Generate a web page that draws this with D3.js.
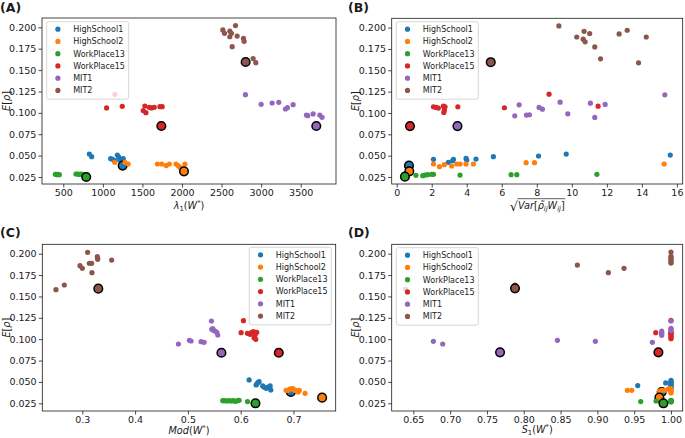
<!DOCTYPE html>
<html><head><meta charset="utf-8">
<script src="https://cdn.jsdelivr.net/npm/d3@7/dist/d3.min.js"></script>
<style>
body{margin:0;background:#fff;}
svg text{font-family:"DejaVu Sans",sans-serif;fill:#1a1a1a;}
</style></head><body>
<svg id="chart" width="685" height="438"></svg>
<script>
// ---------- data ----------
const seriesNames = ["HighSchool1","HighSchool2","WorkPlace13","WorkPlace15","MIT1","MIT2"];
const seriesColors = ["#1f77b4","#ff7f0e","#2ca02c","#d62728","#9467bd","#8c564b"];
const yTickValues = [0.025,0.05,0.075,0.1,0.125,0.15,0.175,0.2];
const xTicksA = [500,1000,1500,2000,2500,3000,3500];
const xTicksB = [0,2,4,6,8,10,12,14,16];
const xTicksC = [0.3,0.4,0.5,0.6,0.7];
const xTicksD = [0.65,0.70,0.75,0.80,0.85,0.90,0.95,1.00];

// Panel A: lambda_1(W*)
const A_HighSchool1 = [[829,0.0519],[858,0.0488],[1099,0.0464],[1124,0.0457],[1153,0.0441],[1183,0.0507],[1200,0.0484],[1215,0.0449],[1237,0.0457],[1250,0.0425],[1258,0.0464]];
const A_HighSchool2 = [[1150,0.0421],[1280,0.0421],[1320,0.0402],[1690,0.0402],[1745,0.0402],[1800,0.0383],[1840,0.0402],[1925,0.0402],[1950,0.0383],[1975,0.0363],[2037,0.0402]];
const A_WorkPlace13 = [[400,0.0281],[412,0.0281],[425,0.0277],[437,0.0281],[450,0.0277],[660,0.0285],[680,0.0285],[700,0.0281],[720,0.0285],[745,0.0281]];
const A_WorkPlace15 = [[1047,0.1057],[1245,0.1076],[1152,0.1217],[1531,0.1080],[1510,0.1026],[1544,0.1002],[1586,0.1065],[1615,0.1057],[1649,0.1065],[1721,0.1072],[1750,0.1072]];
const A_MIT1 = [[2802,0.1213],[3000,0.1100],[3139,0.1115],[3223,0.1123],[3307,0.1045],[3332,0.1061],[3404,0.1096],[3572,0.0975],[3589,0.0967],[3657,0.0987],[3741,0.0975],[3770,0.0948]];
const A_MIT2 = [[2516,0.1969],[2537,0.1930],[2604,0.1957],[2625,0.1930],[2604,0.1890],[2676,0.2020],[2697,0.1898],[2777,0.1870],[2785,0.1836],[2634,0.1774],[2899,0.1634],[2933,0.1587]];
const A_original = [[1250,0.0383],[2025,0.0316],[790,0.0250],[1739,0.0846],[3697,0.0846],[2804,0.1595]];

// Panel B: sqrt(Var[rho W])
const B_HighSchool1 = [[2.10,0.0457],[2.95,0.0422],[3.20,0.0441],[3.24,0.0457],[3.96,0.0468],[4.00,0.0449],[4.53,0.0460],[5.52,0.0488],[8.10,0.0496],[9.68,0.0519],[15.62,0.0507]];
const B_HighSchool2 = [[2.10,0.0402],[2.44,0.0371],[2.72,0.0394],[3.14,0.0379],[3.43,0.0402],[3.62,0.0402],[3.96,0.0402],[4.38,0.0402],[7.39,0.0418],[7.87,0.0418],[15.27,0.0402]];
const B_WorkPlace13 = [[1.10,0.0270],[1.49,0.0266],[1.62,0.0273],[1.77,0.0277],[2.00,0.0281],[2.10,0.0281],[3.62,0.0273],[6.53,0.0277],[6.86,0.0277],[11.43,0.0281]];
const B_WorkPlace15 = [[2.10,0.1072],[2.25,0.1065],[2.38,0.1057],[2.67,0.1080],[2.72,0.1033],[2.69,0.1006],[2.76,0.1072],[3.49,0.1072],[6.15,0.1061],[8.70,0.1220],[11.50,0.1080]];
const B_MIT1 = [[6.99,0.1096],[6.74,0.0967],[7.41,0.0975],[7.58,0.0979],[8.13,0.1065],[8.32,0.1045],[9.33,0.1127],[9.77,0.0990],[11.06,0.1115],[11.31,0.0948],[11.90,0.1100],[15.31,0.1213]];
const B_MIT2 = [[9.26,0.2020],[10.28,0.1890],[10.70,0.1957],[11.02,0.1930],[10.65,0.1864],[10.76,0.1833],[11.31,0.1774],[11.64,0.1634],[12.70,0.1926],[13.16,0.1969],[14.25,0.1890],[13.81,0.1587]];
const B_original = [[0.70,0.0383],[0.72,0.0316],[0.47,0.0254],[0.76,0.0846],[3.47,0.0846],[5.37,0.1595]];

// Panel C: Mod(W*)
const C_HighSchool1 = [[0.616,0.0523],[0.6292,0.0464],[0.6324,0.0492],[0.6349,0.0503],[0.6418,0.0453],[0.645,0.0437],[0.6482,0.0425],[0.6558,0.0453],[0.657,0.0406],[0.6507,0.0437],[0.6305,0.0476]];
const C_HighSchool2 = [[0.686,0.0402],[0.690,0.0402],[0.694,0.0418],[0.697,0.0418],[0.699,0.0421],[0.702,0.0402],[0.704,0.0402],[0.706,0.0394],[0.709,0.0383],[0.711,0.0402],[0.722,0.0367]];
const C_WorkPlace13 = [[0.566,0.0281],[0.570,0.0281],[0.574,0.0277],[0.578,0.0281],[0.582,0.0277],[0.586,0.0281],[0.590,0.0273],[0.594,0.0281],[0.597,0.0285],[0.613,0.0270]];
const C_WorkPlace15 = [[0.6052,0.1217],[0.6008,0.1076],[0.6128,0.1069],[0.6178,0.1057],[0.621,0.1080],[0.6242,0.1088],[0.6273,0.1049],[0.6254,0.1018],[0.6286,0.0998],[0.6305,0.1080],[0.6197,0.1069]];
const C_MIT1 = [[0.482,0.0944],[0.5028,0.0987],[0.506,0.0979],[0.525,0.0971],[0.5307,0.0963],[0.5446,0.1213],[0.5452,0.1115],[0.5471,0.1123],[0.5483,0.1104],[0.5515,0.1096],[0.5547,0.1080],[0.5566,0.1049]];
const C_MIT2 = [[0.2501,0.1579],[0.2659,0.1634],[0.2956,0.1860],[0.300,0.1829],[0.3101,0.2016],[0.3133,0.1887],[0.3177,0.1887],[0.3183,0.1778],[0.3284,0.1965],[0.3291,0.1934],[0.3556,0.1926],[0.3290,0.1950]];
const C_original = [[0.695,0.0383],[0.7543,0.0316],[0.628,0.0250],[0.6722,0.0842],[0.5635,0.0842],[0.3303,0.1591]];

// Panel D: S_1(W*)
const D_HighSchool1 = [[0.9548,0.0457],[0.9928,0.0488],[1,0.0519],[1,0.0507],[1,0.0496],[1,0.0484],[1,0.0464],[1,0.0457],[1,0.0449],[1,0.0441],[1,0.0425]];
const D_HighSchool2 = [[0.9408,0.0402],[0.9467,0.0402],[0.9842,0.0394],[0.9874,0.0402],[0.9919,0.0402],[0.9965,0.0418],[1,0.0421],[1,0.0402],[1,0.0383],[1,0.0371],[1,0.0394]];
const D_WorkPlace13 = [[0.9589,0.0270],[0.9797,0.0277],[1,0.0285],[1,0.0281],[1,0.0277],[1,0.0273],[1,0.0270],[1,0.0266],[1,0.0281],[1,0.0277]];
const D_WorkPlace15 = [[0.9793,0.1076],[0.9874,0.1072],[1,0.1220],[1,0.1080],[1,0.1065],[1,0.1057],[1,0.1033],[1,0.1018],[1,0.1006],[1,0.1072],[1,0.1080]];
const D_MIT1 = [[0.6772,0.0975],[0.6899,0.0944],[0.8457,0.0987],[0.8973,0.0975],[0.9747,0.0963],[0.9874,0.1096],[0.9874,0.1065],[0.9874,0.1045],[1,0.1213],[1,0.1127],[1,0.1115],[1,0.1100]];
const D_MIT2 = [[0.6396,0.1587],[0.8728,0.1867],[0.9149,0.1778],[0.9362,0.1829],[1,0.2020],[1,0.1969],[1,0.1957],[1,0.1930],[1,0.1926],[1,0.1898],[1,0.1890],[0.7881,0.1634]];
const D_original = [[0.9874,0.0383],[0.9842,0.0316],[0.9897,0.0250],[0.9829,0.0846],[0.7678,0.0846],[0.7881,0.1595]];

// ---------- layout ----------
const svg = d3.select("#chart");
const panels = [
  {tag:"(A)", tagX:0, tagY:11.5, box:[42,18,336,184], xDom:[231,3946], yDom:[0.0168,0.2109],
   series:[A_HighSchool1,A_HighSchool2,A_WorkPlace13,A_WorkPlace15,A_MIT1,A_MIT2], orig:A_original,
   xTicks:xTicksA, xFmt:d3.format("d"), legend:[46.7,21.7], xlab:"A", labOff:25},
  {tag:"(B)", tagX:348, tagY:11.5, box:[391.7,18.3,682.7,184], xDom:[-0.285,16.33], yDom:[0.0168,0.2109],
   series:[B_HighSchool1,B_HighSchool2,B_WorkPlace13,B_WorkPlace15,B_MIT1,B_MIT2], orig:B_original,
   xTicks:xTicksB, xFmt:d3.format("d"), legend:[396.3,21.7], xlab:"B", labOff:25},
  {tag:"(C)", tagX:0, tagY:237, box:[42.3,244.3,335.7,411], xDom:[0.2242,0.780], yDom:[0.0160,0.2110],
   series:[C_HighSchool1,C_HighSchool2,C_WorkPlace13,C_WorkPlace15,C_MIT1,C_MIT2], orig:C_original,
   xTicks:xTicksC, xFmt:d3.format(".1f"), legend:[249.3,247.3], xlab:"C", labOff:22.5},
  {tag:"(D)", tagX:348, tagY:237, box:[391.7,244.3,682.7,411], xDom:[0.6206,1.0159], yDom:[0.0160,0.2110],
   series:[D_HighSchool1,D_HighSchool2,D_WorkPlace13,D_WorkPlace15,D_MIT1,D_MIT2], orig:D_original,
   xTicks:xTicksD, xFmt:d3.format(".2f"), legend:[396.3,247.7], xlab:"D", labOff:22}
];

const TICK_FS = 9.5, LEG_FS = 8, LAB_FS = 9.7, R = 2.6;

function rich(g, x, y, parts, fs, anchor){
  const t = g.append("text").attr("x",x).attr("y",y).attr("font-size",fs)
    .attr("text-anchor",anchor||"middle");
  let shift = 0;
  parts.forEach(p=>{
    let target = p.sub ? 2.2 : (p.sup ? -3.8 : 0);
    const ts = t.append("tspan").text(p.t).attr("dy", target - shift);
    shift = target;
    if (p.i) ts.attr("font-style","italic");
    if (p.sub || p.sup) ts.attr("font-size", fs*0.7);
  });
  return t;
}

panels.forEach(P=>{
  const [x0,y0,x1,y1] = P.box;
  const x = d3.scaleLinear().domain(P.xDom).range([x0,x1]);
  const y = d3.scaleLinear().domain(P.yDom).range([y1,y0]);
  const g = svg.append("g");

  // points
  const pg = g.append("g");
  P.series.forEach((arr,si)=>{
    pg.selectAll(null).data(arr).enter().append("circle")
      .attr("cx",d=>x(d[0])).attr("cy",d=>y(d[1])).attr("r",R)
      .attr("fill",seriesColors[si]);
    const o = P.orig[si];
    pg.append("circle").attr("cx",x(o[0])).attr("cy",y(o[1])).attr("r",4.3)
      .attr("fill",seriesColors[si]).attr("stroke","#000").attr("stroke-width",1.5);
  });

  // axes
  const xa = g.append("g").attr("transform",`translate(0,${y1})`)
    .call(d3.axisBottom(x).tickValues(P.xTicks).tickFormat(P.xFmt).tickSize(3.5).tickPadding(2.2));
  const ya = g.append("g").attr("transform",`translate(${x0},0)`)
    .call(d3.axisLeft(y).tickValues(yTickValues).tickFormat(d3.format(".3f")).tickSize(3.5).tickPadding(2.2));
  [xa,ya].forEach(a=>{
    a.select(".domain").remove();
    a.selectAll(".tick line").attr("stroke","#1a1a1a").attr("stroke-width",0.8);
    a.selectAll(".tick text").attr("font-size",TICK_FS).attr("fill","#1a1a1a")
      .style("font-family","'DejaVu Sans',sans-serif");
  });

  // frame
  g.append("rect").attr("x",x0).attr("y",y0).attr("width",x1-x0).attr("height",y1-y0)
    .attr("fill","none").attr("stroke","#1a1a1a").attr("stroke-width",0.8);

  // legend
  const [lx,ly] = P.legend;
  const lg = g.append("g");
  lg.append("rect").attr("x",lx).attr("y",ly).attr("width",82).attr("height",77.5).attr("rx",2)
    .attr("fill","#fff").attr("fill-opacity",0.8).attr("stroke","#cccccc").attr("stroke-width",0.8);
  seriesNames.forEach((n,i)=>{
    const yy = ly + 7.5 + i*12.25;
    lg.append("circle").attr("cx",lx+11.2).attr("cy",yy).attr("r",R).attr("fill",seriesColors[i]);
    lg.append("text").attr("x",lx+26.5).attr("y",yy+2.9).attr("font-size",LEG_FS).text(n);
  });

  // panel tag
  svg.append("text").attr("x",P.tagX).attr("y",P.tagY).attr("font-size",12.5)
    .attr("font-weight","bold").text(P.tag);

  // y label
  const cy = (y0+y1)/2;
  const ylab = rich(svg, 0, 0, [{t:"E",i:true},{t:"["},{t:"ρ",i:true},{t:"]"}], LAB_FS);
  ylab.attr("transform",`translate(${x0-32.5},${cy}) rotate(-90)`);

  // x label
  const cx = (x0+x1)/2, by = y1 + P.labOff;
  if (P.xlab==="A") {
    rich(svg, cx, by, [{t:"λ",i:true},{t:"1",sub:true},{t:"("},{t:"W",i:true},{t:"*",sup:true},{t:")"}], LAB_FS);
  } else if (P.xlab==="C") {
    rich(svg, cx, by, [{t:"Mod",i:true},{t:"("},{t:"W",i:true},{t:"*",sup:true},{t:")"}], LAB_FS);
  } else if (P.xlab==="D") {
    rich(svg, cx, by, [{t:"S",i:true},{t:"1",sub:true},{t:"("},{t:"W",i:true},{t:"*",sup:true},{t:")"}], LAB_FS);
  } else {
    const content = rich(svg, 0, by, [{t:"Var",i:true},{t:"["},{t:"ρ̃",i:true},{t:"ij",sub:true,i:true},{t:"W",i:true},{t:"ij",sub:true,i:true},{t:"]"}], LAB_FS, "start");
    const cw = content.node().getComputedTextLength();
    const rad = svg.append("text").attr("y",by+1.5).attr("font-size",13).text("√");
    const rw = rad.node().getComputedTextLength();
    const sx = cx - (cw+rw)/2;
    rad.attr("x",sx);
    content.attr("x",sx+rw);
    svg.append("line").attr("x1",sx+rw-0.5).attr("x2",sx+rw+cw+0.5)
      .attr("y1",by-10.3).attr("y2",by-10.3).attr("stroke","#1a1a1a").attr("stroke-width",0.7);
  }
});
</script>
</body></html>
